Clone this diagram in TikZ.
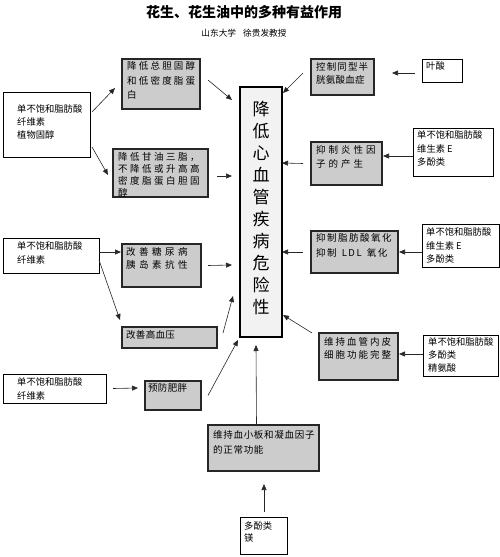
\documentclass[tikz,border=0pt]{standalone}
\usepackage{fontspec}
\setmainfont{Noto Sans CJK SC}
\usetikzlibrary{arrows.meta,calc}
\makeatletter
\newcommand\spc[2][0]{\@tfor\spcx:=#2\do{\spcx\kern#1pt}}
\makeatother
\newcommand\bx[6]{\node[#2, anchor=north west, minimum width={#5-#3}, minimum height={#6-#4}, inner sep=0pt, outer sep=0pt] (#1) at (#3,#4) {};}
\begin{document}
\begin{tikzpicture}[x=1pt,y=-1pt,
  gbox/.style={draw=black!85, line width=1.1pt, fill=gray!40},
  wbox/.style={draw=black, line width=0.8pt, fill=white},
  cbox/.style={draw=black, line width=1.1pt, fill=black!5},
  tx/.style={inner sep=0pt, anchor=north west, align=left},
  wt/.style={tx, font=\fontsize{9.3}{#1}\selectfont},
  gt/.style={tx, font=\fontsize{9.5}{#1}\selectfont},
  arr/.style={-{Triangle[length=6pt,width=5pt]}, line width=0.6pt, black!85}]
\useasboundingbox (0,0) rectangle (500,557);
% title
\node[font=\fontsize{14}{14}\selectfont\bfseries, inner sep=0pt] (title) at (244,12) {花生、花生油中的多种有益作用};
\node[font=\fontsize{8.7}{9}\selectfont, inner sep=0pt] (sub) at (244,33) {山东大学\hspace{7pt}徐贵发教授};
% boxes
\bx{C}{cbox}{240}{87}{282}{337}
\bx{L1}{wbox}{3}{92}{90}{157}
\bx{G1}{gbox}{122}{59}{200}{109}
\bx{G2}{gbox}{113}{149}{208}{197}
\bx{R1}{gbox}{311}{59}{374}{95}
\bx{Y}{wbox}{422}{59}{462}{82}
\bx{R2}{gbox}{311}{142}{382}{185}
\bx{RW2}{wbox}{413}{128}{493}{176}
\bx{R3}{gbox}{311}{231}{398}{273}
\bx{RW3}{wbox}{422}{224}{499}{267}
\bx{R4}{gbox}{319}{333}{398}{380}
\bx{RW4}{wbox}{423}{335}{498}{376}
\bx{LW3}{wbox}{3}{238}{99}{273}
\bx{G3}{gbox}{122}{244}{201}{287}
\bx{G4}{gbox}{122}{327}{217}{348}
\bx{LW4}{wbox}{3}{374}{106}{403}
\bx{G5}{gbox}{145}{381}{201}{410}
\bx{G6}{gbox}{208}{425}{319}{471}
\bx{BW}{wbox}{240}{517}{287}{554}
% texts
\node[font=\fontsize{17}{21.9}\selectfont, align=center, inner sep=0pt] (ct) at (261,208) {降\\低\\心\\血\\管\\疾\\病\\危\\险\\性};
\node[wt=13] (tL1) at (17,104.7) {单不饱和脂肪酸\\纤维素\\植物固醇};
\node[gt=14.5] (tG1) at (127,61.7) {\spc[2.2]{降低总胆固醇}\\\spc[2.2]{和低密度脂蛋}\\\spc[2.2]{白}};
\node[gt=11.8] (tG2) at (118,152.7) {\spc[2.5]{降低甘油三脂，}\\\spc[2.5]{不降低或升高高}\\\spc[2.5]{密度脂蛋白胆固}\\\spc[2.5]{醇}};
\node[gt=13] (tR1) at (316,62.7) {\spc[1.1]{控制同型半}\\\spc[0.2]{胱氨酸血症}};
\node[wt=13] (tY) at (426,61.7) {叶酸};
\node[gt=14] (tR2) at (316,145.7) {\spc[3]{抑制炎性因}\\\spc[3]{子的产生}};
\node[wt=13.5] (tRW2) at (417,130.7) {单不饱和脂肪酸\\维生素 E\\多酚类};
\node[gt=15] (tR3) at (316,233.7) {\spc[1.5]{抑制脂肪酸氧化}\\\spc[1.5]{抑制\ LDL\ 氧化}};
\node[wt=13.5] (tRW3) at (426,227.7) {单不饱和脂肪酸\\维生素 E\\多酚类};
\node[gt=13] (tR4) at (324,337.7) {\spc[2]{维持血管内皮}\\\spc[2]{细胞功能完整}};
\node[wt=13] (tRW4) at (428,337.7) {单不饱和脂肪酸\\多酚类\\精氨酸};
\node[wt=14] (tLW3) at (17,241.7) {单不饱和脂肪酸\\纤维素};
\node[gt=13] (tG3) at (126,247.7) {\spc[3.5]{改善糖尿病}\\\spc[3.5]{胰岛素抗性}};
\node[gt=13] (tG4) at (126,330.7) {\spc[0.3]{改善高血压}};
\node[wt=14] (tLW4) at (17,377.7) {单不饱和脂肪酸\\纤维素};
\node[gt=13] (tG5) at (148,383.7) {\spc[0.3]{预防肥胖}};
\node[gt=15] (tG6) at (213,430.7) {\spc[0.7]{维持血小板和凝血因子}\\\spc[0.7]{的正常功能}};
\node[wt=12] (tBW) at (244,521.7) {多酚类\\镁};
% arrows
\draw[arr] ($(L1.north east)+(2,20)$) -- ($(G1.south west)+(-7,-21)$);
\draw[arr] ($(L1.south east)+(2,-10)$) -- ($(G2.west)+(-5,2)$);
\draw[arr] ($(G1.east)+(8,-4)$) -- ($(C.north west)+(-8,13)$);
\draw[arr] ($(G2.east)+(9,3)$) -- ($(C.north west)+(-8,89)$);
\draw[arr] ($(Y.west)+(-7,2.5)$) -- ($(R1.east)+(18,-4)$);
\draw[arr] ($(R1.west)+(-8,-4)$) -- ($(C.north east)+(1,6)$);
\draw[arr] ($(RW2.west)+(0,4)$) -- ($(R2.east)+(1,-7.5)$);
\draw[arr] ($(R2.west)+(-8,0)$) -- ($(C.north east)+(0,76)$);
\draw[arr] ($(RW3.west)+(0,6.5)$) -- ($(R3.east)+(1,0)$);
\draw[arr] ($(R3.west)+(-8,0)$) -- ($(C.north east)+(0,165)$);
\draw[arr] ($(RW4.west)+(0,-1.5)$) -- ($(R4.east)+(1,-2.5)$);
\draw[arr] ($(R4.north west)+(-7,0)$) -- ($(C.south east)+(1,-22)$);
\draw[arr] ($(LW3.east)+(0,-3.5)$) -- ($(G3.west)+(-1,-13.5)$);
\draw[arr] ($(G3.east)+(7,0)$) -- ($(C.west)+(-8,53)$);
\draw[arr] ($(LW3.east)+(0,4.5)$) -- ($(G4.north west)+(-2,-7)$);
\draw[arr] ($(G4.north east)+(6,6)$) -- ($(C.south west)+(-7,-41)$);
\draw[arr] ($(LW4.east)+(7,0)$) -- ($(G5.west)+(-7,-7.5)$);
\draw[arr] ($(G5.east)+(7,0)$) -- ($(C.south west)+(-2,3)$);
\draw[arr] ($(G6.north)+(-7,0)$) -- ($(C.south)+(-5,8)$);
\draw[arr] ($(BW.north)+(0.5,-5)$) -- ($(G6.south)+(0.5,13)$);
\end{tikzpicture}
\end{document}
